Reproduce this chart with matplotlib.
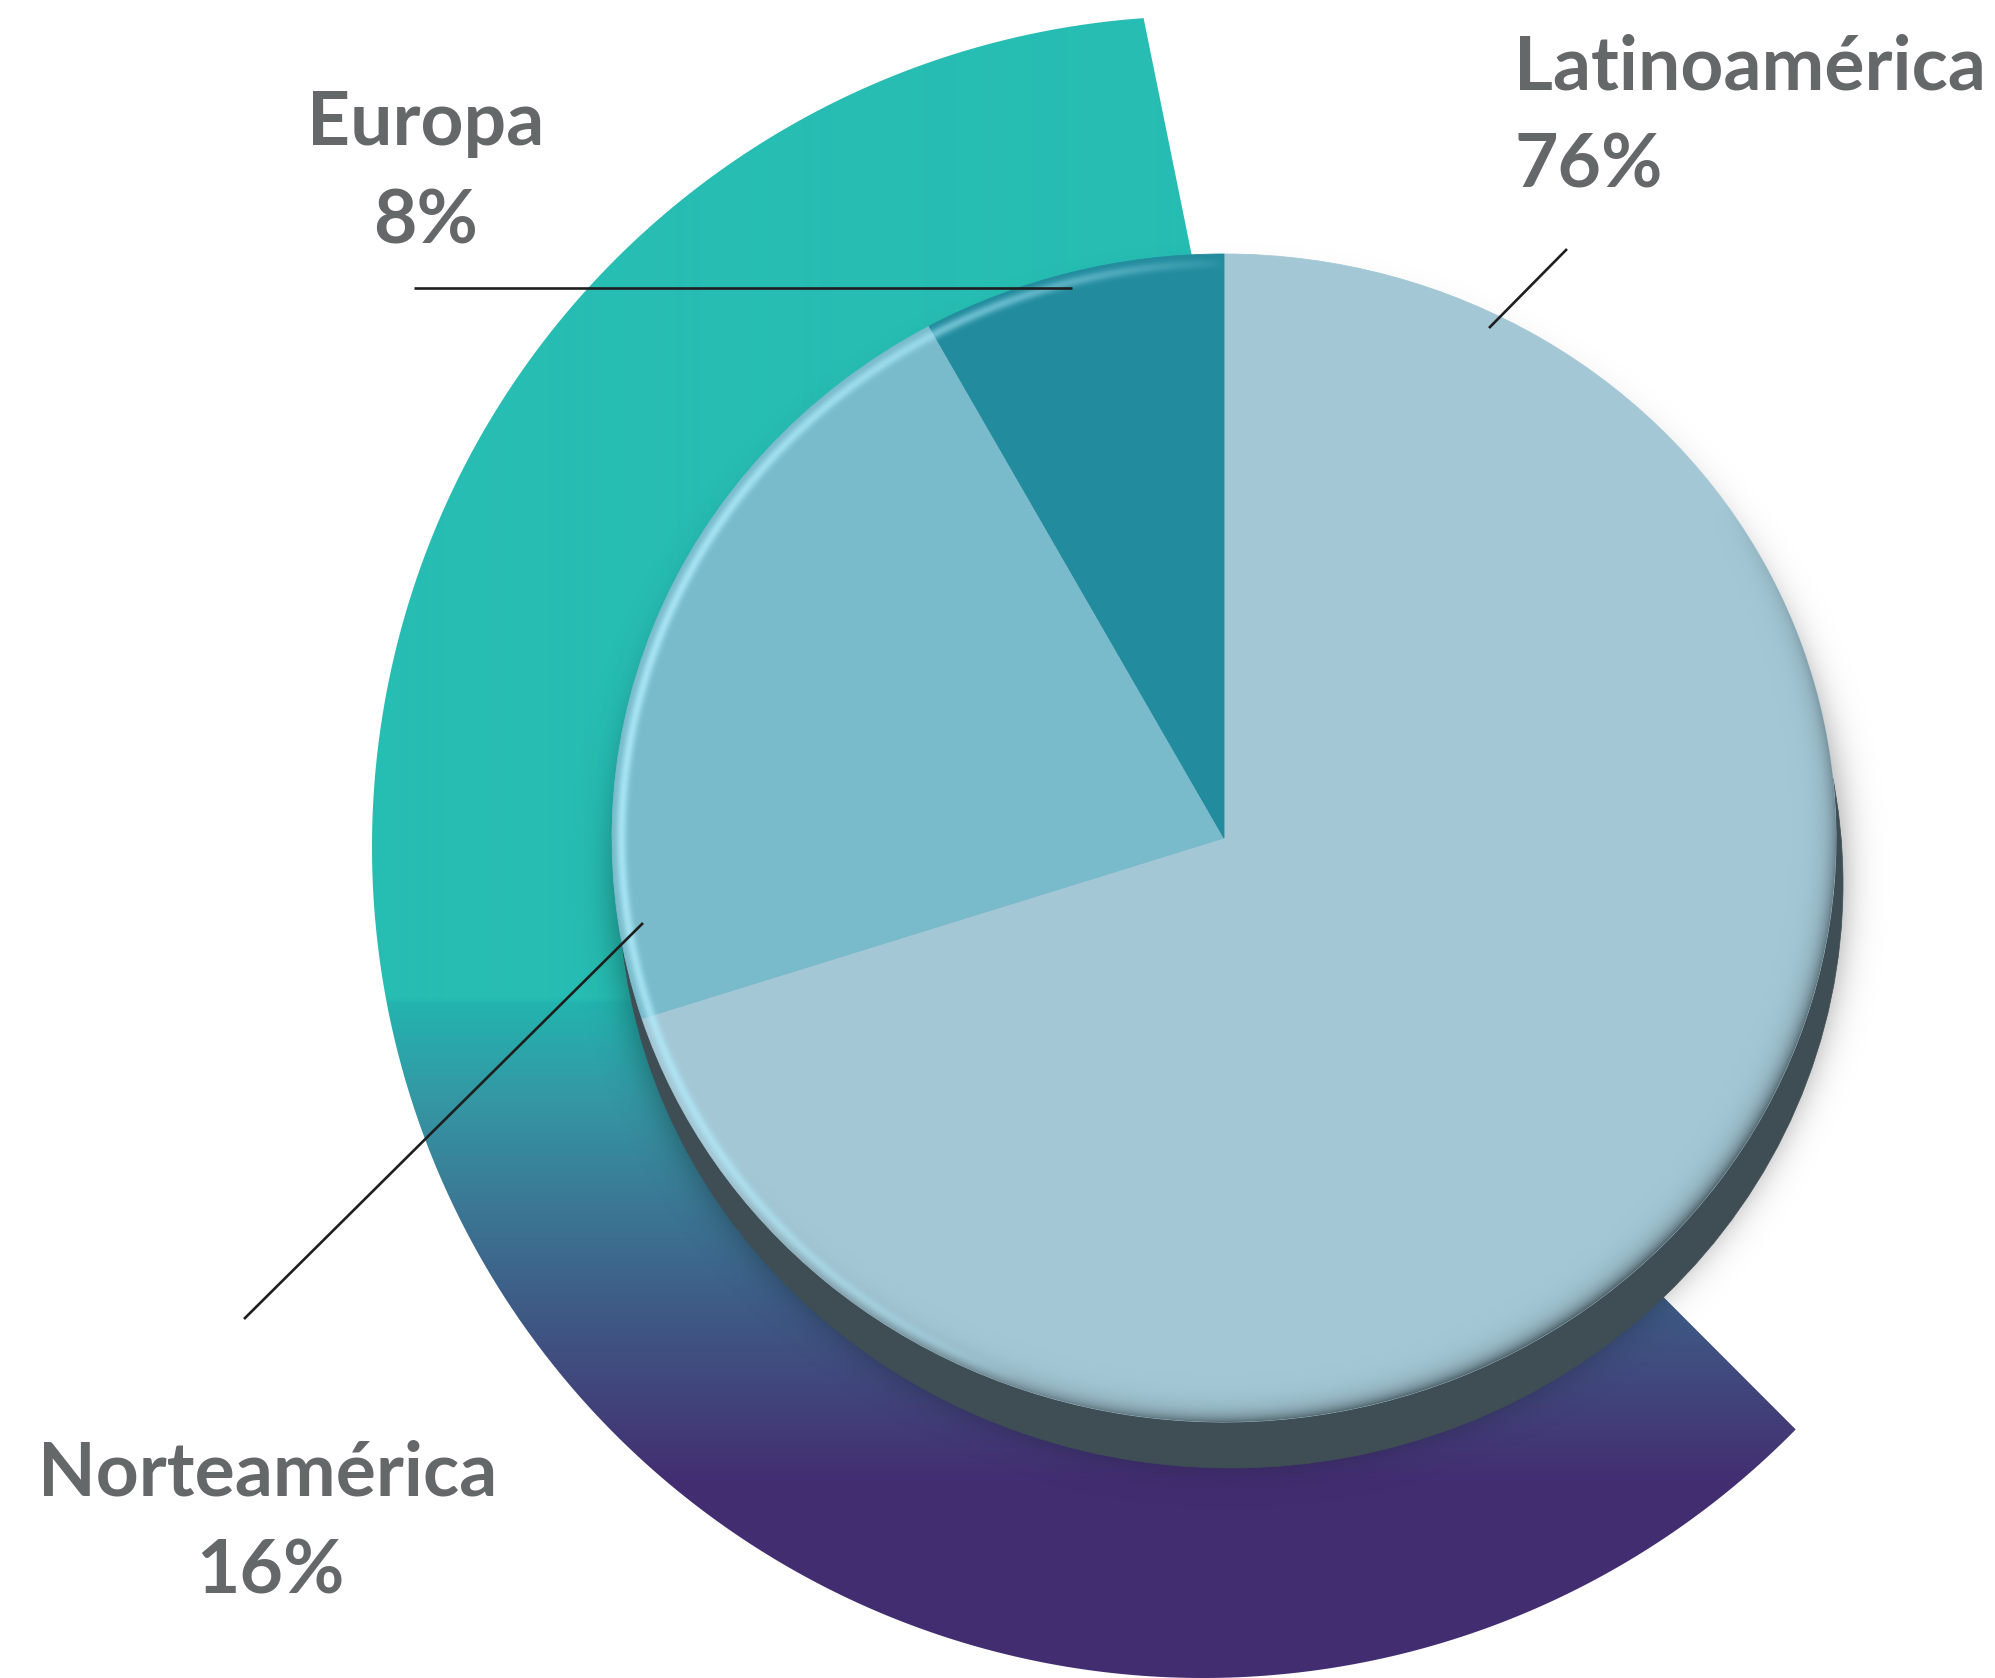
import numpy as np
import matplotlib
matplotlib.use("Agg")
import matplotlib.pyplot as plt
from matplotlib.patches import Polygon, Ellipse
from matplotlib.transforms import Affine2D
from matplotlib.colors import to_rgb

W, H = 1995, 1678
DPI = 100

# ---------------- data ----------------
regions = ["Latinoamérica", "Norteamérica", "Europa"]
pct_labels = ["76%", "16%", "8%"]
slice_share = [70, 22, 8]          # slice sizes as drawn in the picture
slice_colors = ["#A3C7D5", "#79BBCB", "#228B9E"]

fig = plt.figure(figsize=(W / DPI, H / DPI), dpi=DPI)
fig.patch.set_facecolor("white")
ax = fig.add_axes([0, 0, 1, 1])


def sy(y):
    return H - y


# ---------------- background ring (gradient) ----------------
rc_x, rc_y, R = 1203, sy(847), 831
t = np.radians(np.linspace(94.1, 315.5, 500))
arc = np.column_stack([rc_x + R * np.cos(t), rc_y + R * np.sin(t)])
pts = np.vstack([arc, [[1337, sy(970)]]])
poly = Polygon(pts, closed=True, facecolor="none", edgecolor="none",
               transform=ax.transData)
ax.add_patch(poly)

stops_y = [0, 998, 1003, 1100, 1200, 1300, 1400, 1480, 1678]
stops_c = ["#27BDB3", "#27BDB3", "#23B4AF", "#3497A4", "#3B7995",
           "#3E5D87", "#41437A", "#432E72", "#432D71"]
rgb = np.array([to_rgb(c) for c in stops_c])
ys = np.arange(H) + 0.5
grad = np.stack([np.interp(ys, stops_y, rgb[:, k]) for k in range(3)], axis=-1)
img = np.repeat(grad[:, None, :], 2, axis=1)
im = ax.imshow(img, extent=(0, W, 0, H), origin="upper", zorder=1,
               interpolation="bilinear", aspect="auto")
im.set_clip_path(poly)

# ---------------- pie geometry ----------------
cx, cyS, rx, ry = 1224, 838, 612, 584
cyD = sy(cyS)
off_x, off_y = 7, 46   # extrusion (screen px, right / down)

x0, x1, y0, y1 = 520, 1960, 180, 1580
X, Y = np.meshgrid(np.arange(x0, x1) + 0.5, np.arange(y0, y1) + 0.5)


def ell(Xa, Ya, ccx, ccy, arx, ary):
    u = (Xa - ccx) / arx
    v = (ccy - Ya) / ary
    rho = np.hypot(u, v)
    phi = np.arctan2(v, u)
    reff = np.sqrt((arx * np.cos(phi)) ** 2 + (ary * np.sin(phi)) ** 2)
    return (rho - 1) * reff, phi


ext = (x0, x1, sy(y1), sy(y0))

# soft drop shadow
d_s, _ = ell(X, Y, cx + off_x * 0.7, cyS + off_y * 0.8, rx + 4, ry + 4)
a_s = 0.36 / (1 + np.exp(d_s / 10.0))
sh = np.zeros(X.shape + (4,))
sh[..., 3] = a_s
ax.imshow(sh, extent=ext, origin="upper", zorder=2, interpolation="bilinear",
          aspect="auto")

# dark extrusion rim
ax.add_patch(Ellipse((cx + off_x, cyD - off_y), 2 * rx, 2 * ry,
                     facecolor="#3F4E55", edgecolor="#3F4E55", lw=0.5, zorder=3))

# ---------------- pie face ----------------
wedges, _ = ax.pie(slice_share, colors=slice_colors, startangle=90,
                   counterclock=False, center=(cx, cyD), radius=rx, frame=True)
tr = Affine2D().translate(-cx, -cyD).scale(1, ry / rx).translate(cx, cyD) + ax.transData
for w in wedges:
    w.set_transform(tr)
    w.set_zorder(4)
    w.set_edgecolor(w.get_facecolor())
    w.set_linewidth(0.6)

# face overlays: inner shadow + highlight
d_f, phi = ell(X, Y, cx, cyS, rx, ry)
din = -d_f
inside = np.clip(din + 0.5, 0, 1)
w_sh = np.clip(np.cos(phi - np.radians(-55)), 0, 1) ** 0.8
a_in = 0.85 * w_sh * np.exp(-np.clip(din, 0, None) / 9.0) * inside
ov1 = np.zeros(X.shape + (4,))
ov1[..., :3] = to_rgb("#3F4E55")
ov1[..., 3] = a_in
ax.imshow(ov1, extent=ext, origin="upper", zorder=5, interpolation="bilinear",
          aspect="auto")

c80 = np.cos(np.radians(80))
w_hl = np.clip((np.cos(phi - np.radians(170)) - c80) / (1 - c80), 0, 1) ** 0.6
a_hl = 0.75 * w_hl * np.exp(-((din - 9.5) / 5.0) ** 2) * inside
ov2 = np.zeros(X.shape + (4,))
ov2[..., :3] = to_rgb("#B4F0FF")
ov2[..., 3] = a_hl
ax.imshow(ov2, extent=ext, origin="upper", zorder=6, interpolation="bilinear",
          aspect="auto")

# ---------------- leader lines ----------------
lk = dict(color="#1E1E1E", lw=1.9, solid_capstyle="butt", zorder=7)
ax.plot([414, 1072], [sy(287.7), sy(287.7)], **lk)
ax.plot([1567, 1489], [sy(249), sy(328)], **lk)
ax.plot([244, 643], [sy(1319), sy(923)], **lk)

# ---------------- labels ----------------
fk = dict(family="Lato", fontweight="bold", fontsize=54, color="#646869", zorder=8)
ax.text(1514, sy(89), regions[0], ha="left", va="baseline", **fk)
ax.text(1514, sy(187), pct_labels[0], ha="left", va="baseline", **fk)
ax.text(268, sy(1496), regions[1], ha="center", va="baseline", **fk)
ax.text(270, sy(1593), pct_labels[1], ha="center", va="baseline", **fk)
ax.text(426, sy(145), regions[2], ha="center", va="baseline", **fk)
ax.text(426, sy(243), pct_labels[2], ha="center", va="baseline", **fk)

ax.set_xlim(0, W)
ax.set_ylim(0, H)
ax.set_aspect("auto")
ax.axis("off")

fig.savefig("out.png", dpi=DPI, facecolor="white")
